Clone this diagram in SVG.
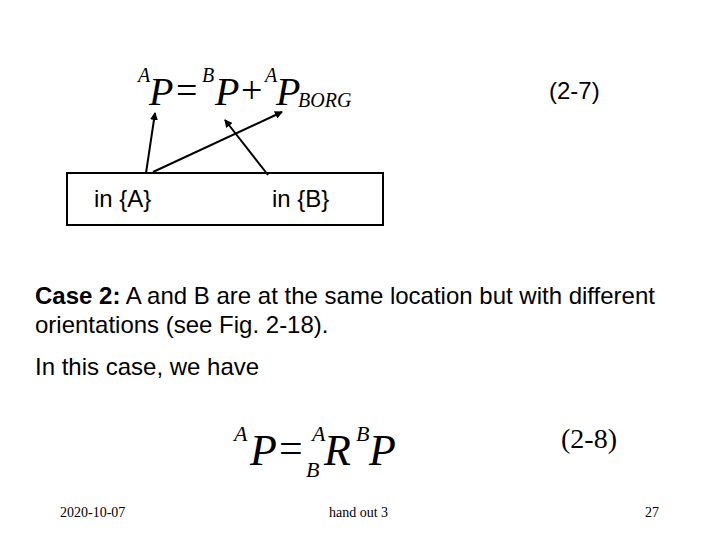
<svg xmlns="http://www.w3.org/2000/svg" width="720" height="540" viewBox="0 0 720 540">
<style>
.m{font-family:"Liberation Serif",serif;font-style:italic}
.mr{font-family:"Liberation Serif",serif}
.s{font-family:"Liberation Sans",Arial,sans-serif}
.c{stroke:#000;stroke-width:2;fill:none;marker-end:url(#ah)}
</style>
<defs><marker id="ah" markerWidth="8" markerHeight="8" refX="7" refY="4" orient="auto" markerUnits="userSpaceOnUse"><path d="M0,0L8,4L0,8z" fill="#000"/></marker></defs>
<rect width="720" height="540" fill="#fff"/>
<g id="eq1">
<text x="138" y="82" class="m" font-size="20">A</text>
<text x="149" y="105" class="m" font-size="40">P</text>
<text x="176" y="103" class="mr" font-size="38">=</text>
<text x="202" y="82" class="m" font-size="20">B</text>
<text x="215" y="105" class="m" font-size="40">P</text>
<text x="241" y="103" class="mr" font-size="38">+</text>
<text x="265" y="82" class="m" font-size="20">A</text>
<text x="276" y="105" class="m" font-size="40">P</text>
<text x="298" y="107" class="m" font-size="20">BORG</text>
</g>
<text x="549" y="99" class="s" font-size="24">(2-7)</text>
<g id="box"><rect x="67" y="173" width="316" height="52" fill="none" stroke="#000" stroke-width="2"/>
<text x="94" y="207" class="s" font-size="24">in {A}</text>
<text x="272" y="207" class="s" font-size="24">in {B}</text></g>
<g id="connectors">
<line x1="146" y1="173" x2="155" y2="113" class="c"/>
<line x1="153" y1="172" x2="282" y2="112" class="c"/>
<line x1="268" y1="175" x2="225" y2="120" class="c"/>
</g>
<text x="35" y="304" class="s" font-size="24"><tspan font-weight="bold">Case 2:</tspan> A and B are at the same location but with different</text>
<text x="35" y="333" class="s" font-size="24">orientations (see Fig. 2-18).</text>
<text x="35" y="375" class="s" font-size="24">In this case, we have</text>
<g id="eq2">
<text x="234" y="441" class="m" font-size="22">A</text>
<text x="250" y="465" class="m" font-size="44">P</text>
<text x="279" y="462" class="mr" font-size="42">=</text>
<text x="312" y="441" class="m" font-size="22">A</text>
<text x="306" y="477" class="m" font-size="22">B</text>
<text x="324" y="465" class="m" font-size="44">R</text>
<text x="356" y="441" class="m" font-size="22">B</text>
<text x="369" y="465" class="m" font-size="44">P</text>
</g>
<text x="561" y="448" class="mr" font-size="28">(2-8)</text>
<text x="60" y="517" class="mr" font-size="14">2020-10-07</text>
<text x="329" y="517" class="mr" font-size="14">hand out 3</text>
<text x="645" y="517" class="mr" font-size="14">27</text>
</svg>
